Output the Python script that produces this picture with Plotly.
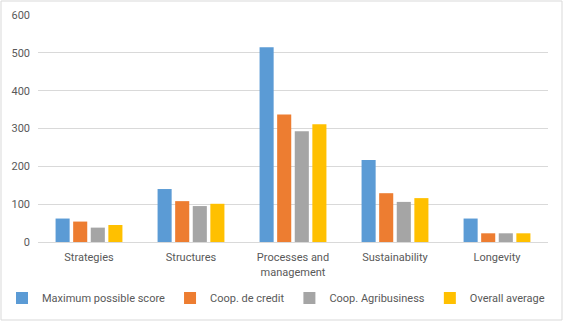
import plotly.graph_objects as go

categories = ["Strategies", "Structures", "Processes and<br>management", "Sustainability", "Longevity"]
max_score = [62, 140, 515, 217, 62]
coop_credit = [54, 108, 337, 129, 23]
coop_agri = [38, 95, 293, 106, 23]
overall_avg = [45, 101, 311, 116, 23]

series_names = ["Maximum possible score", "Coop. de credit", "Coop. Agribusiness", "Overall average"]
series_vals = [max_score, coop_credit, coop_agri, overall_avg]
colors = ["#5B9BD5", "#ED7D31", "#A5A5A5", "#FFC000"]

fig = go.Figure()
for name, vals, c in zip(series_names, series_vals, colors):
    fig.add_trace(go.Bar(x=categories, y=vals, name=name, marker=dict(color=c, line=dict(width=0))))

W, H = 563, 321
ml, mr, mt, mb = 38, 15, 15, 79
pw, ph = W - ml - mr, H - mt - mb

fig.update_layout(
    width=W, height=H,
    margin=dict(l=ml, r=mr, t=mt, b=mb, autoexpand=False),
    paper_bgcolor="white", plot_bgcolor="white",
    barmode="group", bargap=0.31, bargroupgap=0.2,
    font=dict(family="Roboto", size=11, color="#595959"),
    showlegend=True,
    legend=dict(orientation="h", x=(2 - ml) / pw, xanchor="left",
                y=-(298 - (H - mb)) / ph, yanchor="middle",
                font=dict(family="Roboto", size=11, color="#595959"), itemwidth=30, tracegroupgap=0),
    xaxis=dict(showgrid=False, showline=True, linecolor="#D9D9D9", ticks="", tickfont=dict(size=11),
               ticklabelstandoff=5),
    yaxis=dict(range=[0, 600], dtick=100, showgrid=True, gridcolor="#D9D9D9", zeroline=False,
               showline=False, ticks="", tickfont=dict(size=11), ticklabelstandoff=7),
    shapes=[dict(type="rect", xref="paper", yref="paper",
                 x0=-(ml - 1) / pw, x1=1 + (mr - 1) / pw,
                 y0=-(mb - 1) / ph, y1=1 + (mt - 1) / ph,
                 line=dict(color="#D9D9D9", width=1))],
)

fig.write_html("out.html", config={"displayModeBar": False},
               post_script="document.body.style.margin='0';document.body.style.overflow='hidden';")
